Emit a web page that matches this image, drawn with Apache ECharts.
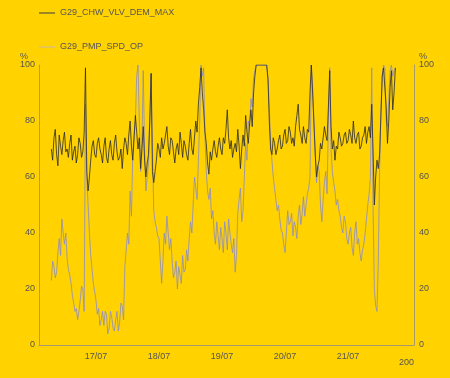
<!DOCTYPE html>
<html>
<head>
<meta charset="utf-8">
<script src="https://cdn.jsdelivr.net/npm/echarts@6/dist/echarts.min.js"></script>
<style>
html,body{margin:0;padding:0;background:#FFD200;}
#chart{width:450px;height:378px;}
</style>
</head>
<body>
<div id="chart"></div>
<script>
// half-hourly readings, first point at hour 7 (hours counted from 16/07 00:00)
var startHour = 7;
var stepHours = 0.5;
var chwName = "G29_CHW_VLV_DEM_MAX";
var pmpName = "G29_PMP_SPD_OP";

var chw = [70,66,74,77,68,64,75,71,68,73,76,69,70,67,72,75,66,69,71,65,
	68,74,72,67,69,76,99,62,55,60,66,71,73,68,67,72,74,70,68,65,
	71,74,67,65,70,73,68,66,72,75,69,66,67,70,63,70,74,72,68,75,
	80,71,66,74,82,76,70,74,63,70,78,66,60,65,68,80,97,62,58,62,
	66,72,70,67,74,70,72,75,78,71,68,74,73,69,65,70,72,68,76,72,
	67,73,71,68,66,72,77,70,68,74,80,76,86,92,99,90,84,76,72,65,
	61,69,66,70,73,69,67,71,74,70,68,74,72,77,84,74,70,73,67,70,
	72,69,77,71,63,70,75,71,82,76,72,79,84,78,90,96,100,100,100,100,
	100,100,100,100,100,95,80,70,68,74,72,68,70,73,75,70,71,75,77,72,
	73,78,76,72,74,71,78,82,86,77,75,72,78,74,72,77,76,90,100,90,
	79,68,60,64,66,72,70,74,78,75,73,85,98,78,70,73,66,71,70,76,
	74,71,72,75,76,72,73,77,75,72,80,74,72,75,76,70,71,74,75,78,
	72,76,78,74,86,70,50,60,66,63,68,82,96,99,99,85,72,80,92,98,
	84,90,99];

var pmp = [23,30,28,24,26,33,38,32,45,40,36,40,31,27,25,22,18,15,12,13,
	9,12,16,21,20,12,86,60,50,40,32,27,22,19,16,11,13,7,9,12,
	7,12,11,4,6,12,10,6,5,9,12,5,8,15,14,9,28,34,40,36,
	55,46,68,75,80,96,100,80,62,72,98,70,55,60,65,82,97,70,48,44,
	42,39,38,30,22,30,40,36,46,40,34,38,30,24,26,30,20,28,25,22,
	32,26,27,34,30,38,44,40,50,60,56,52,66,80,100,96,99,75,62,55,
	52,56,45,48,40,36,44,39,34,42,38,33,44,40,34,45,40,36,33,38,
	26,32,47,52,56,44,48,60,72,66,80,78,88,85,95,98,100,100,100,100,
	100,100,100,100,100,95,85,72,66,60,56,52,48,50,45,41,40,36,33,40,
	48,43,44,47,39,44,42,38,46,50,43,47,53,46,50,54,56,60,100,92,
	80,68,58,64,62,50,44,52,58,62,54,80,99,70,62,58,55,50,52,48,
	46,42,40,46,44,38,36,40,42,35,32,40,44,36,38,33,30,34,36,40,
	45,50,54,60,99,50,20,14,12,30,62,84,96,100,99,80,78,88,98,100,
	96,98,99];

var dayHours = [24, 48, 72, 96, 120];
var dayLabels = ["17/07", "18/07", "19/07", "20/07", "21/07"];
var yearText = "200";

function pairs(arr) {
	var out = [];
	for (var i = 0; i < arr.length; i++) {
		out.push([startHour + i * stepHours, arr[i]]);
	}
	return out;
}

var font = "'Liberation Sans', Arial, sans-serif";
var txtColor = "#555555";
var axisColor = "#a89a6c";

var yAxisBase = {
	type: 'value',
	min: 0,
	max: 100,
	interval: 20,
	name: '%',
	nameLocation: 'end',
	nameGap: 4,
	axisLine: {show: true, lineStyle: {color: axisColor, width: 1}},
	axisTick: {show: false},
	splitLine: {show: false},
	axisLabel: {color: txtColor, fontSize: 9, fontFamily: font, margin: 4}
};

var chart = echarts.init(document.getElementById('chart'));
var option = {
	backgroundColor: '#FFD200',
	animation: false,
	grid: {left: 39, right: 36, top: 65, bottom: 33},
	legend: {
		orient: 'vertical',
		left: 34,
		top: 1,
		icon: 'rect',
		itemWidth: 16,
		itemHeight: 1.5,
		itemGap: 20,
		data: [
			{name: chwName, itemStyle: {color: '#7a6c30'}},
			{name: pmpName, itemStyle: {color: '#dcc070'}}
		],
		textStyle: {color: txtColor, fontSize: 9, fontFamily: font, lineHeight: 14}
	},
	xAxis: {
		type: 'value',
		min: 2.3,
		max: 145.1,
		name: yearText,
		nameLocation: 'end',
		nameGap: 0,
		nameTextStyle: {color: txtColor, fontSize: 9, fontFamily: font, align: 'right', verticalAlign: 'top', padding: [13, 0, 0, 0]},
		axisLine: {show: true, lineStyle: {color: axisColor, width: 1}},
		axisTick: {show: false},
		splitLine: {show: false},
		axisLabel: {
			color: txtColor, fontSize: 9, fontFamily: font, margin: 7,
			customValues: dayHours,
			formatter: function (v) {
				var i = dayHours.indexOf(v);
				return i >= 0 ? dayLabels[i] : '';
			}
		}
	},
	yAxis: [
		Object.assign({}, yAxisBase, {
			position: 'left',
			nameTextStyle: {color: txtColor, fontSize: 9, fontFamily: font, align: 'right', padding: [0, 11, 0, 0]}
		}),
		Object.assign({}, yAxisBase, {
			position: 'right',
			nameTextStyle: {color: txtColor, fontSize: 9, fontFamily: font, align: 'left', padding: [0, 0, 0, 5]},
			axisLabel: {color: txtColor, fontSize: 9, fontFamily: font, margin: 5}
		})
	],
	series: [
		{
			name: pmpName,
			type: 'line',
			data: pairs(pmp),
			symbol: 'none',
			color: '#8c8cc8',
			lineStyle: {color: '#8c8cc8', width: 0.8}
		},
		{
			name: chwName,
			type: 'line',
			data: pairs(chw),
			symbol: 'none',
			color: '#2a2a38',
			lineStyle: {color: '#2a2a38', width: 0.8}
		}
	]
};
chart.setOption(option);
</script>
</body>
</html>
